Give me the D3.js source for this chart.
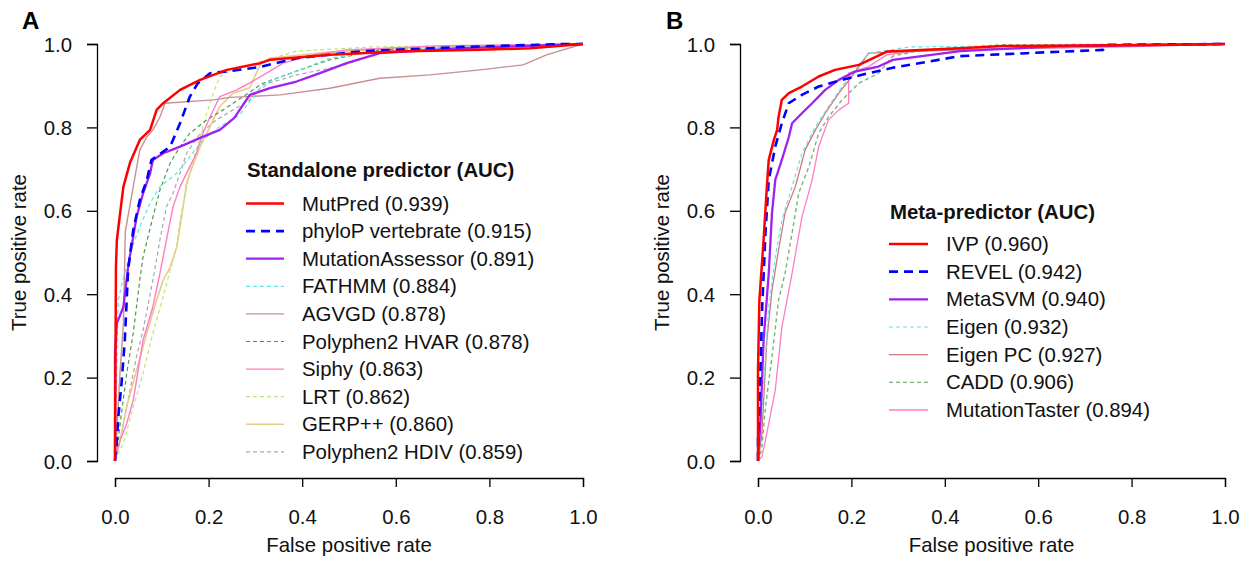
<!DOCTYPE html>
<html><head><meta charset="utf-8">
<script src="https://cdn.jsdelivr.net/npm/d3@7"></script>
<style>body{margin:0;background:#fff}svg{display:block}text{font-family:"Liberation Sans",Arial,sans-serif}</style>
</head><body><svg id="c" width="1256" height="561"></svg>
<script>
// ---------- Data (FPR, TPR) ----------
const tickValues = [0, 0.2, 0.4, 0.6, 0.8, 1.0];

// Panel A: standalone predictors
const standaloneNames = ["MutPred","phyloP vertebrate","MutationAssessor","FATHMM","AGVGD","Polyphen2 HVAR","Siphy","LRT","GERP++","Polyphen2 HDIV"];
const standaloneAUC = ["0.939","0.915","0.891","0.884","0.878","0.878","0.863","0.862","0.860","0.859"];
const mutPred = [[0,0],[0.002,0.465],[0.004,0.53],[0.011,0.595],[0.018,0.658],[0.032,0.715],[0.053,0.77],[0.075,0.794],[0.089,0.842],[0.103,0.858],[0.139,0.89],[0.182,0.914],[0.239,0.938],[0.31,0.954],[0.331,0.962],[0.459,0.974],[0.602,0.982],[0.78,0.986],[0.887,0.99],[1,1]];
const phyloP = [[0,0],[0.004,0.05],[0.007,0.105],[0.014,0.187],[0.021,0.29],[0.028,0.458],[0.039,0.554],[0.053,0.626],[0.068,0.674],[0.078,0.722],[0.118,0.754],[0.139,0.81],[0.16,0.874],[0.177,0.906],[0.203,0.93],[0.246,0.935],[0.31,0.945],[0.388,0.966],[0.53,0.983],[0.744,0.993],[0.957,1],[1,1]];
const mutAssessor = [[0,0],[0,0.26],[0.004,0.33],[0.018,0.37],[0.028,0.465],[0.046,0.585],[0.06,0.642],[0.075,0.69],[0.081,0.722],[0.103,0.738],[0.139,0.754],[0.182,0.775],[0.224,0.794],[0.255,0.823],[0.267,0.843],[0.288,0.878],[0.331,0.894],[0.388,0.91],[0.438,0.93],[0.495,0.954],[0.566,0.978],[0.744,0.99],[1,1]];
const fathmm = [[0,0],[0.002,0.1],[0.005,0.3],[0.007,0.386],[0.017,0.434],[0.032,0.498],[0.053,0.562],[0.075,0.618],[0.096,0.658],[0.132,0.69],[0.16,0.73],[0.188,0.77],[0.224,0.802],[0.267,0.83],[0.288,0.863],[0.331,0.911],[0.388,0.935],[0.459,0.966],[0.566,0.983],[0.75,0.993],[1,1]];
const agvgd = [[0,0],[0.004,0.07],[0.01,0.2],[0.018,0.33],[0.022,0.55],[0.039,0.658],[0.053,0.746],[0.068,0.777],[0.081,0.794],[0.096,0.825],[0.107,0.858],[0.21,0.866],[0.246,0.872],[0.353,0.878],[0.459,0.894],[0.566,0.918],[0.673,0.926],[0.78,0.938],[0.872,0.95],[0.922,0.974],[0.957,0.986],[1,1]];
const hvar = [[0,0],[0.005,0.03],[0.011,0.09],[0.025,0.21],[0.039,0.307],[0.053,0.434],[0.06,0.49],[0.081,0.585],[0.096,0.65],[0.118,0.715],[0.139,0.754],[0.16,0.786],[0.196,0.818],[0.231,0.842],[0.274,0.874],[0.316,0.906],[0.388,0.935],[0.459,0.962],[0.566,0.986],[1,1]];
const siphy = [[0,0],[0.011,0.05],[0.025,0.09],[0.039,0.146],[0.06,0.29],[0.081,0.37],[0.096,0.45],[0.11,0.53],[0.124,0.61],[0.139,0.658],[0.16,0.706],[0.174,0.738],[0.188,0.786],[0.203,0.825],[0.224,0.874],[0.26,0.89],[0.295,0.911],[0.331,0.935],[0.359,0.954],[0.423,0.974],[0.495,0.986],[0.7,0.996],[1,1]];
const lrt = [[0,0],[0.02,0.05],[0.039,0.13],[0.06,0.21],[0.081,0.307],[0.103,0.394],[0.118,0.458],[0.132,0.514],[0.139,0.578],[0.153,0.658],[0.167,0.722],[0.182,0.777],[0.196,0.834],[0.21,0.882],[0.224,0.922],[0.252,0.938],[0.288,0.95],[0.388,0.983],[0.55,0.993],[1,1]];
const gerp = [[0,0],[0.011,0.05],[0.025,0.13],[0.046,0.218],[0.068,0.307],[0.089,0.386],[0.103,0.434],[0.118,0.465],[0.132,0.514],[0.139,0.562],[0.153,0.666],[0.16,0.69],[0.182,0.754],[0.203,0.802],[0.224,0.85],[0.252,0.882],[0.288,0.895],[0.31,0.95],[0.33,0.966],[0.45,0.98],[0.6,0.99],[1,1]];
const hdiv = [[0,0],[0.011,0.05],[0.025,0.13],[0.046,0.25],[0.06,0.314],[0.081,0.434],[0.096,0.53],[0.11,0.61],[0.124,0.642],[0.139,0.69],[0.153,0.738],[0.182,0.786],[0.217,0.818],[0.252,0.842],[0.288,0.866],[0.316,0.902],[0.388,0.926],[0.481,0.947],[0.566,0.978],[0.75,0.992],[1,1]];

// Panel B: meta-predictors
const metaNames = ["IVP","REVEL","MetaSVM","Eigen","Eigen PC","CADD","MutationTaster"];
const metaAUC = ["0.960","0.942","0.940","0.932","0.927","0.906","0.894"];
const ivp = [[0,0],[0,0.218],[0.003,0.386],[0.012,0.53],[0.019,0.658],[0.023,0.722],[0.034,0.77],[0.041,0.794],[0.044,0.825],[0.051,0.866],[0.066,0.882],[0.094,0.898],[0.13,0.922],[0.165,0.938],[0.216,0.95],[0.276,0.982],[0.433,0.99],[0.525,0.995],[0.896,0.998],[1,1]];
const revel = [[0,0],[0,0.05],[0.005,0.21],[0.009,0.37],[0.016,0.547],[0.023,0.674],[0.037,0.754],[0.051,0.81],[0.066,0.858],[0.094,0.878],[0.13,0.898],[0.18,0.914],[0.237,0.93],[0.293,0.944],[0.433,0.971],[0.575,0.978],[0.739,0.986],[0.746,0.998],[1,1]];
const metaSVM = [[0,0],[0.005,0.09],[0.012,0.29],[0.023,0.45],[0.03,0.595],[0.037,0.674],[0.051,0.722],[0.066,0.777],[0.073,0.81],[0.094,0.834],[0.116,0.858],[0.144,0.89],[0.173,0.914],[0.208,0.934],[0.258,0.946],[0.289,0.962],[0.433,0.983],[0.647,0.995],[1,1]];
const eigen = [[0,0],[0.004,0.05],[0.009,0.13],[0.023,0.37],[0.037,0.49],[0.051,0.578],[0.073,0.658],[0.094,0.738],[0.123,0.802],[0.151,0.85],[0.18,0.898],[0.208,0.938],[0.237,0.978],[0.325,0.993],[1,1]];
const eigenPC = [[0,0],[0.008,0.06],[0.019,0.29],[0.03,0.41],[0.044,0.506],[0.058,0.595],[0.08,0.658],[0.101,0.746],[0.123,0.794],[0.144,0.834],[0.173,0.882],[0.201,0.922],[0.237,0.978],[0.4,0.985],[0.7,0.993],[1,1]];
const cadd = [[0,0],[0.008,0.03],[0.016,0.13],[0.03,0.25],[0.044,0.386],[0.058,0.45],[0.073,0.547],[0.087,0.642],[0.109,0.706],[0.13,0.786],[0.151,0.825],[0.18,0.866],[0.216,0.906],[0.258,0.93],[0.289,0.971],[0.35,0.985],[0.518,0.998],[1,1]];
const mutTaster = [[0,0],[0.008,0.01],[0.016,0.05],[0.037,0.17],[0.051,0.32],[0.073,0.45],[0.094,0.585],[0.116,0.674],[0.13,0.754],[0.151,0.818],[0.173,0.842],[0.194,0.858],[0.194,0.93],[0.237,0.946],[0.276,0.974],[0.35,0.985],[0.79,0.993],[1,1]];

const standaloneData = [mutPred, phyloP, mutAssessor, fathmm, agvgd, hvar, siphy, lrt, gerp, hdiv];
const metaData = [ivp, revel, metaSVM, eigen, eigenPC, cadd, mutTaster];

// ---------- Styles ----------
const standaloneStyle = [
  {c:"#FF0000", w:2.5, d:null},
  {c:"#0000FF", w:2.6, d:"9,6"},
  {c:"#A020F0", w:2.3, d:null},
  {c:"#5CE6E6", w:1.2, d:"4,3"},
  {c:"#C89090", w:1.4, d:null},
  {c:"#4E9A4E", w:1.2, d:"4,3"},
  {c:"#FF7CC4", w:1.4, d:null},
  {c:"#BEE57A", w:1.2, d:"4,3"},
  {c:"#E8CB88", w:1.6, d:null},
  {c:"#A8A8A8", w:1.2, d:"4,3"}
];
const metaStyle = [
  {c:"#FF0000", w:2.5, d:null},
  {c:"#0000FF", w:2.6, d:"9,6"},
  {c:"#A020F0", w:2.3, d:null},
  {c:"#5CE6E6", w:1.2, d:"4,3"},
  {c:"#D07878", w:1.3, d:null},
  {c:"#78B478", w:1.4, d:"4,3"},
  {c:"#FF7CC4", w:1.3, d:null}
];

const svg = d3.select("#c");
const FONT = 20.4;

function panel(opt){
  const x = d3.scaleLinear().domain([0,1]).range([opt.x0, opt.x1]);
  const y = d3.scaleLinear().domain([0,1]).range([461, 44]);
  const g = svg.append("g");
  const axisX = opt.x0 - 18;
  // y axis
  const ya = g.append("g").attr("transform",`translate(${axisX},0)`)
    .call(d3.axisLeft(y).tickValues(tickValues).tickFormat(d3.format(".1f")).tickSize(10).tickPadding(15));
  // x axis
  const xa = g.append("g").attr("transform",`translate(0,478)`)
    .call(d3.axisBottom(x).tickValues(tickValues).tickFormat(d3.format(".1f")).tickSize(9).tickPadding(23));
  [ya, xa].forEach(a=>{
    a.select(".domain").attr("stroke","#000").attr("stroke-width",1.3);
    a.selectAll(".tick line").attr("stroke","#000").attr("stroke-width",1.3);
    a.selectAll("text").attr("font-size",FONT).attr("fill","#111").attr("font-family","Liberation Sans, Arial, sans-serif");
  });
  ya.selectAll(".tick text").attr("dy","0.35em");
  // axis titles
  g.append("text").attr("x",(opt.x0+opt.x1)/2).attr("y",552).attr("text-anchor","middle")
    .attr("font-size",FONT).attr("fill","#111").text("False positive rate");
  g.append("text").attr("transform",`translate(${axisX-71},252.5) rotate(-90)`).attr("text-anchor","middle")
    .attr("font-size",FONT).attr("fill","#111").text("True positive rate");
  // panel letter
  g.append("text").attr("x",opt.letterX).attr("y",29).attr("font-size",24).attr("font-weight","bold").text(opt.letter);
  // curves
  const line = d3.line().x(d=>x(d[0])).y(d=>y(d[1])).curve(d3.curveLinear);
  for(let i=opt.data.length-1;i>=0;i--){
    const s = opt.style[i];
    g.append("path").attr("d",line(opt.data[i])).attr("fill","none")
      .attr("stroke",s.c).attr("stroke-width",s.w).attr("stroke-dasharray",s.d)
      .attr("stroke-linejoin","round");
  }
  // legend
  const L = opt.legend;
  g.append("text").attr("x",L.x).attr("y",L.titleY).attr("dy","0.35em").attr("font-size",FONT)
    .attr("font-weight","bold").attr("fill","#111").text(L.title);
  opt.names.forEach((n,i)=>{
    const yy = L.y0 + i*L.dy, s = opt.style[i];
    g.append("line").attr("x1",L.lx0).attr("x2",L.lx1).attr("y1",yy).attr("y2",yy)
      .attr("stroke",s.c).attr("stroke-width",s.w).attr("stroke-dasharray",s.d);
    g.append("text").attr("x",L.tx).attr("y",yy).attr("dy","0.35em").attr("font-size",FONT)
      .attr("fill","#111").text(`${n} (${opt.auc[i]})`);
  });
}

panel({x0:115, x1:583, letter:"A", letterX:22, data:standaloneData, style:standaloneStyle,
  names:standaloneNames, auc:standaloneAUC,
  legend:{title:"Standalone predictor (AUC)", x:247, titleY:170, y0:203.5, dy:27.6, lx0:246, lx1:284, tx:302}});
panel({x0:758, x1:1225, letter:"B", letterX:666, data:metaData, style:metaStyle,
  names:metaNames, auc:metaAUC,
  legend:{title:"Meta-predictor (AUC)", x:890, titleY:212, y0:244, dy:27.67, lx0:889, lx1:928, tx:946}});
</script></body></html>
